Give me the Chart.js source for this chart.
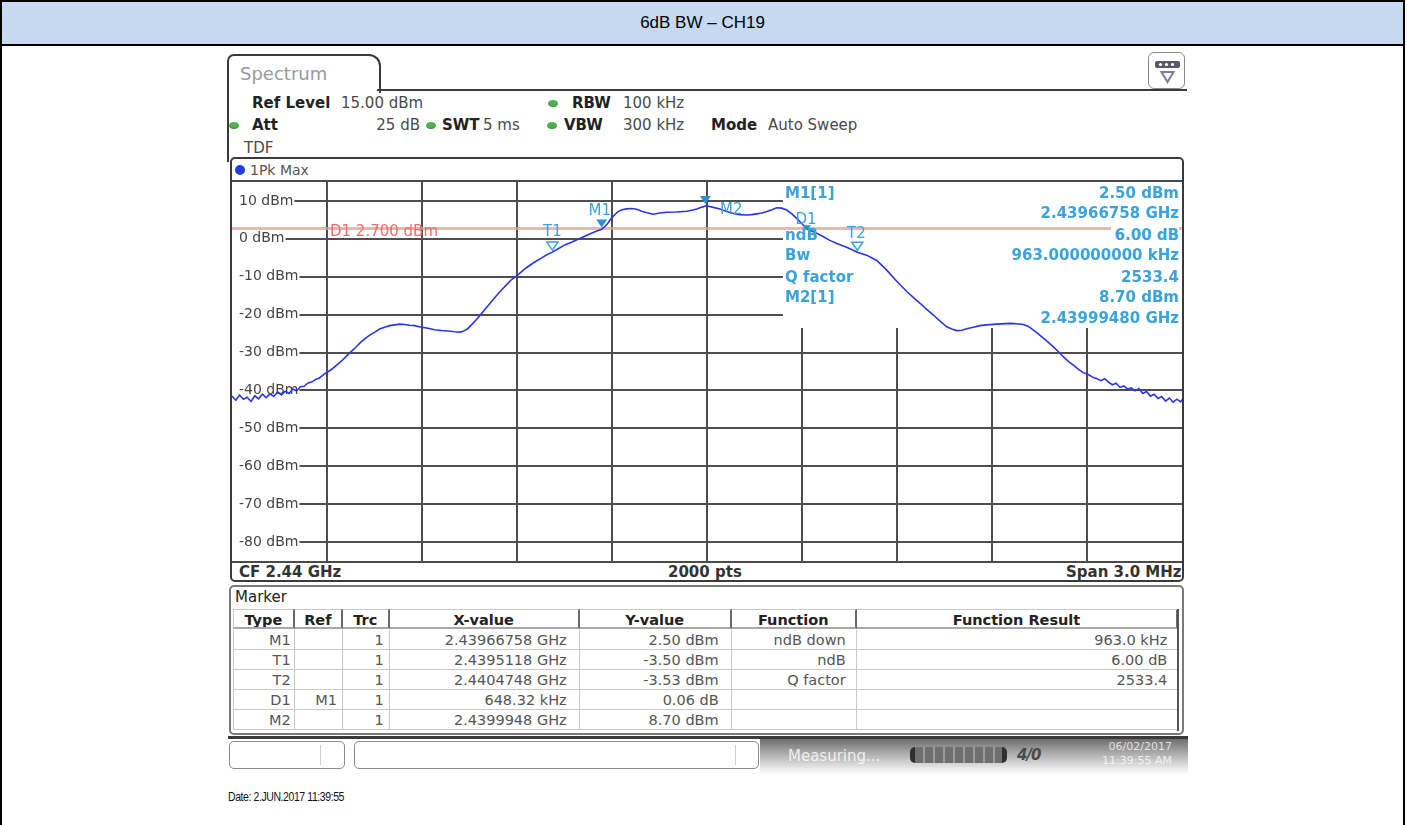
<!DOCTYPE html>
<html>
<head>
<meta charset="utf-8">
<title>6dB BW – CH19</title>
<script src="https://cdn.jsdelivr.net/npm/chart.js@4.4.1/dist/chart.umd.min.js"></script>
<style>
  html, body { margin: 0; padding: 0; background: #fff; }
  #page { position: relative; width: 1407px; height: 825px; overflow: hidden; font-family: "DejaVu Sans", Verdana, sans-serif; }
  .abs { position: absolute; white-space: nowrap; }
  .ui { font-size: 15px; line-height: 20px; color: #4a4a4a; }
  .b { font-weight: bold; color: #222; }
  .dot { position: absolute; width: 10px; height: 7px; border-radius: 50%; background: #4fb04f; box-shadow: inset 0 -1px 1px rgba(0,0,0,0.2); }
  #sheet { position: absolute; left: 0; top: 0; width: 1401px; height: 900px; border: 2px solid #000; }
  #head { position: absolute; left: 2px; top: 2px; width: 1401px; height: 42px; background: #c6d9f1; border-bottom: 2px solid #000;
          font-family: "Liberation Sans", Arial, sans-serif; font-size: 17px; line-height: 42px; text-align: center; color: #000; }
  #tab { position: absolute; left: 227px; top: 54px; width: 150px; height: 37px; border: 2px solid #3a3a3a; border-bottom: none;
         border-radius: 7px 12px 0 0; background: #fff; }
  #plotFrame { position: absolute; left: 230px; top: 157px; width: 950px; height: 421px; border: 2px solid #3a3a3a; border-radius: 5px; background: #fff; }
  #spec { position: absolute; left: 232px; top: 182px; }
  .mk { position: absolute; color: #3aa3dd; font-size: 15px; line-height: 18px; white-space: nowrap; }
  .mkb { font-weight: bold; }
  .cell { position: absolute; box-sizing: border-box; height: 20px; line-height: 20px; font-size: 14.5px; color: #555;
          border-right: 1px solid #c9c9c9; border-bottom: 1px solid #c9c9c9; white-space: nowrap; overflow: hidden; }
  .hcell { font-weight: bold; color: #222; text-align: center; border-right: 2px solid #6a6a6a; border-bottom: 2px solid #a8a8a8; border-top: 1px solid #c9c9c9; }
</style>
</head>
<body>
<div id="page">
  <div id="sheet"></div>
  <div id="head">6dB BW – CH19</div>

  <!-- instrument window chrome -->
  <div class="abs" style="left:227px;top:62px;width:2px;height:100px;background:#3a3a3a;"></div>
  <div id="tab"></div>
  <div class="abs" style="left:377px;top:89px;width:810px;height:2px;background:#3a3a3a;"></div>
  <div class="abs" style="left:240px;top:62px;font-size:18px;line-height:24px;color:#9a9a9a;">Spectrum</div>
  <div class="abs" style="left:1148px;top:52px;width:35px;height:35px;border:1.5px solid #8a8a8a;border-radius:6px;background:#fff;">
    <svg width="35" height="35" viewBox="0 0 35 35">
      <rect x="6" y="8" width="25" height="7" rx="2" fill="#5b5674"/>
      <circle cx="11.5" cy="11.5" r="1.6" fill="#fff"/><circle cx="17.5" cy="11.5" r="1.6" fill="#fff"/><circle cx="23.5" cy="11.5" r="1.6" fill="#fff"/>
      <path d="M12.5 19 L24.5 19 L18.5 29 Z" fill="none" stroke="#7d7ba0" stroke-width="2"/>
    </svg>
  </div>

  <!-- setup readout -->
  <div class="abs ui b" style="left:252px;top:93px;">Ref Level</div>
  <div class="abs ui" style="left:341px;top:93px;">15.00 dBm</div>
  <div class="dot" style="left:548px;top:100px;"></div>
  <div class="abs ui b" style="left:572px;top:93px;">RBW</div>
  <div class="abs ui" style="left:623px;top:93px;">100 kHz</div>

  <div class="dot" style="left:229px;top:122px;"></div>
  <div class="abs ui b" style="left:252px;top:115px;">Att</div>
  <div class="abs ui" style="right:987px;top:115px;">25 dB</div>
  <div class="dot" style="left:426px;top:122px;"></div>
  <div class="abs ui b" style="left:442px;top:115px;">SWT</div>
  <div class="abs ui" style="left:483px;top:115px;">5 ms</div>
  <div class="dot" style="left:547px;top:122px;"></div>
  <div class="abs ui b" style="left:564px;top:115px;">VBW</div>
  <div class="abs ui" style="left:623px;top:115px;">300 kHz</div>
  <div class="abs ui b" style="left:711px;top:115px;">Mode</div>
  <div class="abs ui" style="left:768px;top:115px;">Auto Sweep</div>
  <div class="abs ui" style="left:244px;top:138px;">TDF</div>

  <!-- diagram frame -->
  <div id="plotFrame"></div>
  <div class="abs" style="left:232px;top:180px;width:950px;height:2px;background:#4a4a4a;"></div>
  <div class="abs" style="left:235px;top:165px;width:10px;height:10px;border-radius:50%;background:#1f3fe0;"></div>
  <div class="abs" style="left:250px;top:160px;font-size:14px;line-height:20px;color:#555;">1Pk Max</div>
  <canvas id="spec" width="950" height="379"></canvas>
  <div class="abs" style="left:232px;top:561px;width:950px;height:2px;background:#4a4a4a;"></div>
  <div class="abs ui b" style="left:239px;top:562px;color:#333;">CF 2.44 GHz</div>
  <div class="abs ui b" style="left:668px;top:562px;color:#333;">2000 pts</div>
  <div class="abs ui b" style="left:1066px;top:562px;color:#333;">Span 3.0 MHz</div>

  <div id="markerInfo"></div>
  <div id="markerTags"></div>

  <!-- marker table -->
  <div class="abs" style="left:229px;top:585px;width:951px;height:146px;border:2px solid #7a7a7a;border-radius:5px;"></div>
  <div class="abs" style="left:235px;top:587px;font-size:15px;line-height:20px;color:#222;">Marker</div>
  <div id="table"></div>
  <div class="abs" style="left:1177px;top:609px;width:2px;height:122px;background:#555;"></div>

  <!-- status line -->
  <div class="abs" style="left:228px;top:736px;width:960px;height:3px;background:#3a3a3a;"></div>
  <div class="abs" style="left:760px;top:739px;width:428px;height:36px;background:linear-gradient(to bottom,#6e6e6e 0%,#acacac 40%,#e6e6e6 80%,#fff 100%);"></div>
  <div class="abs" style="left:229px;top:741px;width:114px;height:26px;border:1.5px solid #8a8a8a;border-radius:5px;background:#fff;"></div>
  <div class="abs" style="left:320px;top:745px;width:1px;height:20px;background:#d0d0d0;"></div>
  <div class="abs" style="left:354px;top:741px;width:403px;height:26px;border:1.5px solid #8a8a8a;border-radius:5px;background:#fff;"></div>
  <div class="abs" style="left:735px;top:745px;width:1px;height:20px;background:#d0d0d0;"></div>
  <div class="abs" style="left:788px;top:746px;font-size:15px;line-height:20px;color:rgba(255,255,255,0.8);">Measuring...</div>
  <div class="abs" style="left:910px;top:747px;width:97px;height:16px;border-radius:5px;background:repeating-linear-gradient(to right,#6f6f6f 0,#6f6f6f 8px,#9a9a9a 8px,#9a9a9a 10px);border-left:5px solid #2f2f2f;border-right:5px solid #2f2f2f;box-sizing:border-box;"></div>
  <div class="abs" style="left:1017px;top:745px;font-size:15px;line-height:20px;font-weight:bold;font-style:italic;color:#4a4a4a;letter-spacing:-1px;">4/0</div>
  <div class="abs" style="left:1102px;top:740px;font-size:11px;line-height:14px;color:rgba(255,255,255,0.75);text-align:right;">06/02/2017<br>11:39:55 AM</div>

  <div class="abs" style="left:228px;top:789px;font-family:'Liberation Sans',Arial,sans-serif;font-size:12.5px;line-height:16px;color:#111;letter-spacing:-0.5px;transform:scaleX(0.84);transform-origin:left center;">Date: 2.JUN.2017 11:39:55</div>
</div>

<script>
// ---- sweep settings ----
const centreGHz = 2.44;
const spanKHz = 3000;
const refLevelDbm = 15;
const bottomLevelDbm = -85;
const yTickDbm = [10, 0, -10, -20, -30, -40, -50, -60, -70, -80];
const xGridKHz = [-1200, -900, -600, -300, 0, 300, 600, 900, 1200];

// ---- trace 1 (1Pk Max): offset from centre frequency in kHz, level in dBm ----
const traceOffsetKHz = [
  -1500, -1488, -1476, -1464, -1452, -1440, -1428, -1416, -1404, -1392, -1380, -1368, -1356, -1344, -1332, -1320,
  -1308, -1296, -1284, -1272, -1260, -1248, -1236, -1224, -1212, -1200, -1188, -1176, -1165, -1150, -1137, -1123,
  -1109, -1095, -1081, -1065, -1049, -1034, -1018, -1002, -986, -970, -955, -939, -923, -902, -881, -860,
  -839, -818, -797, -780, -770, -757, -744, -728, -713, -697, -681, -665, -649, -634, -618, -597,
  -581, -565, -544, -523, -506, -488.2, -470, -449, -428, -407, -386, -365, -350, -332.42, -318, -302,
  -290, -281, -268, -254, -238, -222, -206, -190, -170, -149, -127, -96, -64, -44, -32, -20,
  -11, -5.2, 5, 20, 41, 62, 83, 104, 125, 141, 157, 173, 189, 205, 220, 236,
  252, 268, 283, 300, 315.9, 336, 362, 388, 410, 441, 474.8, 504, 536, 567, 599, 631,
  652, 673, 694, 715, 736, 757, 773, 789, 805, 820, 841, 862, 883, 915, 957, 978,
  999, 1015, 1031, 1046, 1062, 1078, 1094, 1110, 1125, 1141, 1157, 1172, 1188, 1204, 1220, 1232,
  1244, 1256, 1268, 1280, 1292, 1304, 1316, 1328, 1340, 1352, 1364, 1376, 1388, 1400, 1412, 1424,
  1436, 1448, 1460, 1472, 1484, 1496, 1500
];
const traceLevelDbm = [
  -41.5, -42.6, -41.2, -42.3, -41.8, -42.9, -41.4, -42.2, -41.0, -41.9, -40.9, -41.6, -40.4, -41.2, -40.2, -40.8,
  -39.6, -40.1, -39.0, -38.9, -38.0, -37.8, -37.1, -36.7, -35.9, -35.2, -34.6, -33.8, -33.0, -31.9, -30.8, -29.7,
  -28.6, -27.4, -26.4, -25.4, -24.6, -23.8, -23.3, -22.9, -22.7, -22.5, -22.6, -22.8, -22.9, -23.3, -23.6, -24.0,
  -24.2, -24.3, -24.5, -24.6, -24.4, -23.8, -22.7, -21.3, -19.8, -18.2, -16.6, -15.0, -13.5, -12.2, -10.8, -9.5,
  -8.3, -7.3, -6.1, -5.1, -4.2, -3.5, -2.6, -1.6, -0.9, -0.1, 0.7, 1.5, 2.0, 2.5, 3.6, 5.4,
  6.5, 7.2, 7.7, 7.9, 8.0, 7.8, 7.3, 6.9, 6.5, 6.8, 7.0, 7.1, 7.3, 7.6, 7.9, 8.3,
  8.5, 8.7, 8.6, 8.3, 7.9, 7.2, 6.7, 6.4, 6.3, 6.4, 6.6, 6.8, 7.2, 7.7, 8.2, 8.1,
  7.6, 6.6, 5.4, 4.0, 2.56, 1.9, 0.8, -0.4, -1.2, -2.2, -3.53, -4.3, -5.7, -8.2, -11.2, -13.9,
  -15.5, -17.0, -18.6, -20.1, -21.7, -23.2, -23.8, -24.2, -24.1, -23.7, -23.3, -22.9, -22.7, -22.5, -22.3, -22.4,
  -22.6, -23.1, -24.1, -25.1, -26.2, -27.3, -28.5, -29.8, -31.1, -32.3, -33.3, -34.4, -35.3, -35.8, -36.6, -36.9,
  -37.4, -36.9, -37.8, -38.5, -38.1, -39.2, -38.8, -39.6, -39.3, -40.1, -39.5, -40.8, -40.3, -41.5, -41.0, -42.1,
  -41.6, -42.8, -42.0, -43.1, -42.3, -43.0, -42.4
];

// ---- display line D1 ----
const displayLineDbm = 2.7;

// ---- marker table ----
const markerType = ['M1', 'T1', 'T2', 'D1', 'M2'];
const markerRef = ['', '', '', 'M1', ''];
const markerTrc = [1, 1, 1, 1, 1];
const markerX = [2.43966758, 2.4395118, 2.4404748, 648.32, 2.4399948];
const markerXUnit = ['GHz', 'GHz', 'GHz', 'kHz', 'GHz'];
const markerXDigits = [8, 7, 7, 2, 7];
const markerY = [2.50, -3.50, -3.53, 0.06, 8.70];
const markerYUnit = ['dBm', 'dBm', 'dBm', 'dB', 'dBm'];
const markerFunction = ['ndB down', 'ndB', 'Q factor', '', ''];
const markerResult = ['963.0 kHz', '6.00 dB', '2533.4', '', ''];

// ndB down results
const ndbDb = 6.00;
const bandwidthKHz = 963.0;
const qFactor = 2533.4;

// absolute marker positions (delta markers are relative to their reference)
const markerPos = markerType.map((t, i) => {
  const r = markerRef[i] ? markerType.indexOf(markerRef[i]) : -1;
  if (r >= 0) {
    return { f: (markerX[r] - centreGHz) * 1e6 + markerX[i], lv: markerY[r] + markerY[i] };
  }
  return { f: (markerX[i] - centreGHz) * 1e6, lv: markerY[i] };
});

const markerBlue = '#3aa3dd';

const plotDecor = {
  id: 'plotDecor',
  beforeDatasetsDraw(chart) {
    // readout panel in the upper right hides the graticule
    const { ctx, chartArea: a } = chart;
    ctx.save();
    ctx.fillStyle = '#fff';
    ctx.fillRect(a.left + 551, a.top, a.right - a.left - 551, 146);
    ctx.restore();
  },
  afterDatasetsDraw(chart) {
    const { ctx, scales: { x, y } } = chart;
    ctx.save();
    markerType.forEach((t, i) => {
      const px = x.getPixelForValue(markerPos[i].f);
      const py = y.getPixelForValue(markerPos[i].lv);
      ctx.beginPath();
      if (t === 'D1') {
        ctx.moveTo(px, py + 1); ctx.lineTo(px - 4, py - 4); ctx.lineTo(px + 4, py - 4);
      } else {
        ctx.moveTo(px, py - 2); ctx.lineTo(px - 5.5, py - 10); ctx.lineTo(px + 5.5, py - 10);
      }
      ctx.closePath();
      if (t[0] === 'T') {
        ctx.strokeStyle = markerBlue; ctx.lineWidth = 1.5; ctx.stroke();
      } else {
        ctx.fillStyle = '#2b8fd0'; ctx.fill();
      }
    });
    ctx.restore();
  }
};

const noPad = s => { s.paddingTop = 0; s.paddingBottom = 0; s.paddingLeft = 0; s.paddingRight = 0; };

const chart = new Chart(document.getElementById('spec').getContext('2d'), {
  type: 'line',
  data: {
    datasets: [
      {
        label: '1Pk Max',
        data: traceOffsetKHz.map((f, i) => ({ x: f, y: traceLevelDbm[i] })),
        borderColor: '#2a36e4',
        borderWidth: 1.6,
        pointRadius: 0,
        tension: 0,
        order: 0
      },
      {
        label: 'D1',
        data: [{ x: -spanKHz / 2, y: displayLineDbm }, { x: spanKHz / 2, y: displayLineDbm }],
        borderColor: 'rgba(246,150,150,0.75)',
        borderWidth: 3,
        pointRadius: 0,
        order: 1
      }
    ]
  },
  options: {
    responsive: false,
    animation: false,
    devicePixelRatio: 1,
    layout: { padding: 0, autoPadding: false },
    events: [],
    plugins: { legend: { display: false }, tooltip: { enabled: false } },
    scales: {
      x: {
        type: 'linear',
        min: -spanKHz / 2,
        max: spanKHz / 2,
        afterBuildTicks: s => { s.ticks = xGridKHz.map(v => ({ value: v })); },
        afterFit: s => { s.height = 0; noPad(s); },
        ticks: { display: false },
        grid: { color: '#4e4e4e', lineWidth: 2, drawTicks: false },
        border: { display: false }
      },
      y: {
        type: 'linear',
        min: bottomLevelDbm,
        max: refLevelDbm,
        afterBuildTicks: s => { s.ticks = yTickDbm.map(v => ({ value: v })); },
        afterFit: s => { s.width = 0; noPad(s); },
        ticks: {
          mirror: true,
          padding: 7,
          color: '#454545',
          font: { family: 'DejaVu Sans', size: 14 },
          callback: v => v + ' dBm',
          showLabelBackdrop: true,
          backdropColor: '#fff',
          backdropPadding: { left: 8, right: 1, top: 0, bottom: 0 }
        },
        grid: { color: '#4e4e4e', lineWidth: 2, drawTicks: false },
        border: { display: false }
      }
    }
  },
  plugins: [plotDecor]
});

// ---- readout panel text ----
const fmt = (v, d) => v.toFixed(d);
const m1 = markerType.indexOf('M1'), m2 = markerType.indexOf('M2');
const infoRows = [
  ['M1[1]', fmt(markerY[m1], 2) + ' dBm'],
  ['', fmt(markerX[m1], 8) + ' GHz'],
  ['ndB', fmt(ndbDb, 2) + ' dB'],
  ['Bw', fmt(bandwidthKHz, 9) + ' kHz'],
  ['Q factor', fmt(qFactor, 1)],
  ['M2[1]', fmt(markerY[m2], 2) + ' dBm'],
  ['', fmt(markerX[m2], 8) + ' GHz']
];
const infoTop = [184, 204, 226, 246, 268, 288, 309];
const info = document.getElementById('markerInfo');
infoRows.forEach((r, i) => {
  if (r[0]) {
    const l = document.createElement('div');
    l.className = 'mk mkb';
    l.style.left = '785px'; l.style.top = infoTop[i] + 'px';
    l.textContent = r[0];
    info.appendChild(l);
  }
  const v = document.createElement('div');
  v.className = 'mk mkb';
  v.style.right = (1407 - 1179) + 'px'; v.style.top = infoTop[i] + 'px';
  if (i === 2) { v.style.background = '#fff'; v.style.paddingLeft = '4px'; }
  v.textContent = r[1];
  info.appendChild(v);
});

// ---- marker tags and display line label, placed through the chart scales ----
const canvasLeft = 232, canvasTop = 182;
const tagOffset = { M1: [-2, -19], T1: [0, -21], T2: [-1, -19], D1: [-1, -10], M2: [26, 3] };
const tags = document.getElementById('markerTags');
const xs = chart.scales.x, ys = chart.scales.y;
markerType.forEach((t, i) => {
  const px = canvasLeft + xs.getPixelForValue(markerPos[i].f);
  const py = canvasTop + ys.getPixelForValue(markerPos[i].lv);
  const d = document.createElement('div');
  d.className = 'mk';
  d.style.left = (px + tagOffset[t][0]) + 'px';
  d.style.top = (py + tagOffset[t][1]) + 'px';
  d.style.transform = 'translate(-50%,-50%)';
  d.textContent = t;
  tags.appendChild(d);
});
const dl = document.createElement('div');
dl.className = 'mk';
dl.style.color = '#f36b6b';
dl.style.left = (canvasLeft + 98) + 'px';
dl.style.top = (canvasTop + ys.getPixelForValue(displayLineDbm) + 2) + 'px';
dl.style.transform = 'translateY(-50%)';
dl.textContent = 'D1 ' + displayLineDbm.toFixed(3) + ' dBm';
tags.appendChild(dl);

// ---- marker table ----
const colEdge = [233, 294.7, 343, 389.7, 579.7, 731.7, 856.7, 1178.3];
const colPadRight = [3, 5, 5, 12, 12, 10, 10];
const headers = ['Type', 'Ref', 'Trc', 'X-value', 'Y-value', 'Function', 'Function Result'];
const table = document.getElementById('table');
const addCell = (txt, c, top, head) => {
  const d = document.createElement('div');
  d.className = head ? 'cell hcell' : 'cell';
  d.style.left = colEdge[c] + 'px';
  d.style.width = (colEdge[c + 1] - colEdge[c]) + 'px';
  d.style.top = top + 'px';
  if (!head) { d.style.textAlign = 'right'; d.style.paddingRight = colPadRight[c] + 'px'; }
  if (c === 0) d.style.borderLeft = '1px solid #c9c9c9';
  d.textContent = txt;
  table.appendChild(d);
};
headers.forEach((h, c) => addCell(h, c, 609, true));
markerType.forEach((t, i) => {
  const top = 630 + i * 20;
  addCell(t, 0, top);
  addCell(markerRef[i], 1, top);
  addCell(String(markerTrc[i]), 2, top);
  addCell(fmt(markerX[i], markerXDigits[i]) + ' ' + markerXUnit[i], 3, top);
  addCell(fmt(markerY[i], 2) + ' ' + markerYUnit[i], 4, top);
  addCell(markerFunction[i], 5, top);
  addCell(markerResult[i], 6, top);
});
</script>
</body>
</html>
